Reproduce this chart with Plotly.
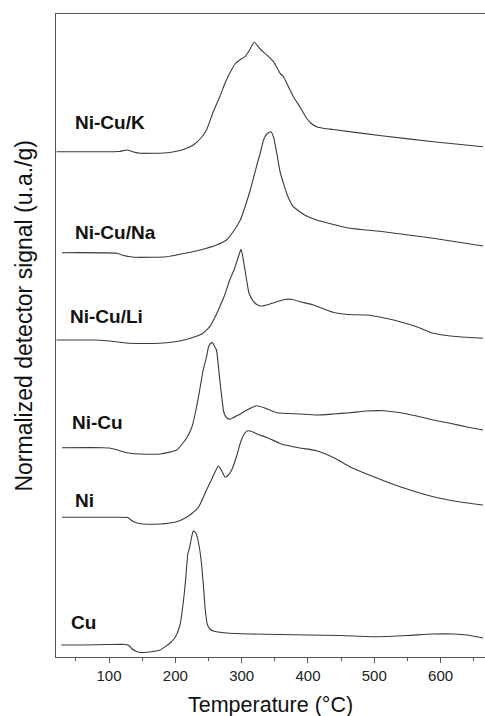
import plotly.graph_objects as go

# Temperature-programmed reduction profiles, stacked with vertical offsets
# (signal values are in stacked display units; the y axis carries no ticks).

cu_temp = [28, 60, 100, 125, 130, 134, 140, 147, 160, 177, 192, 200, 207, 212, 215, 219, 221,
           224, 227, 231, 235, 239, 242, 245, 248, 252, 257, 277, 313, 400, 450, 504, 550,
           589, 620, 640, 664]
cu_signal = [12, 12, 12.5, 12.5, 11.5, 8.5, 6, 4.5, 5, 7, 14, 20, 32, 55, 74, 104, 108,
             118, 126, 124, 114, 96, 74, 48, 33, 28, 26, 24, 23, 22, 21.5, 20.3, 21.5,
             23, 23, 22, 19]

ni_temp = [29, 100, 128, 133, 138, 145, 151, 177, 202, 215, 222, 235, 247, 255, 260, 265,
           270, 275, 280, 285, 292, 298, 303, 308, 313, 325, 338, 360, 388, 413, 440, 463,
           500, 539, 589, 630, 664]
ni_signal = [139.7, 139.7, 139.5, 137, 135, 133.5, 133, 133, 135.3, 139, 142, 150, 167, 178,
             185.3, 191, 186, 180, 182, 187, 200, 214, 222, 226, 226, 222.5, 219.5, 213, 209,
             206.3, 199, 190.3, 180, 170.3, 160.3, 155, 152]

nicu_temp = [29, 91, 100, 110, 120, 132, 147, 177, 202, 217, 225, 232, 237, 242, 247, 250,
             253, 256, 259, 262, 267, 270, 273, 277, 282, 295, 308, 323, 335, 353, 388, 413,
             438, 463, 488, 513, 539, 564, 589, 614, 640, 664]
nicu_signal = [209.3, 209.3, 209, 207.5, 205.5, 203.7, 203, 203, 207, 219, 230, 250, 268, 287,
               300, 310, 313.5, 314.3, 311, 307, 277, 260, 245, 239.5, 237.7, 242, 247, 251.3,
               249, 244.3, 243, 242, 243, 244.3, 246, 246.3, 244.3, 241, 237, 233.7, 230, 227]

li_temp = [21, 76, 100, 132, 160, 187, 210, 227, 240, 252, 260, 267, 275, 282, 289, 293, 296,
           299, 301, 303, 305, 308, 311, 318, 324, 330, 340, 353, 365, 375, 390, 408, 438,
           460, 489, 515, 539, 565, 589, 615, 639, 664]
li_signal = [317, 317, 316, 313.7, 313.5, 314.3, 316.5, 319.7, 323, 330.3, 340, 350.3, 363,
             377, 388, 396, 402, 407.7, 403, 395, 387, 375, 364, 355.3, 352, 351, 352.5,
             355.3, 357.5, 357.7, 355, 352, 344.7, 342.5, 342, 339, 335.3, 330, 323.7, 321,
             319.7, 318.7]

na_temp = [29, 112, 122, 132, 142, 187, 237, 262, 277, 290, 298, 306, 313, 319, 325, 328, 333,
           338, 344, 348, 353, 358, 363, 370, 378, 395, 413, 463, 514, 589, 664]
na_signal = [404.3, 403.7, 401.5, 400.3, 399.7, 400.3, 407, 412, 417, 428, 437, 452, 467, 482,
             497, 503.7, 517, 523, 525.3, 520, 503.7, 485, 473.7, 460, 450.3, 442, 437, 428.7,
             425.3, 418.7, 411]

k_temp = [21, 101, 115, 127, 137, 147, 187, 210, 227, 240, 247, 257, 267, 275, 282, 290, 297,
          305, 312, 319, 328, 338, 348, 358, 363, 368, 378, 388, 398, 405, 413, 425, 438, 514,
          589, 664]
k_signal = [505.3, 505.3, 505.5, 507, 505, 503.7, 504.3, 507, 512, 520, 527, 545, 560.3, 574,
            583.7, 593, 597, 600.3, 607, 614.7, 608, 602, 595.3, 583.7, 580.3, 573.7, 560.3,
            550, 538.7, 533.5, 530.3, 528.5, 527.5, 521, 515.3, 510.3]

series_names = ["Cu", "Ni", "Ni-Cu", "Ni-Cu/Li", "Ni-Cu/Na", "Ni-Cu/K"]
series_temps = [cu_temp, ni_temp, nicu_temp, li_temp, na_temp, k_temp]
series_signals = [cu_signal, ni_signal, nicu_signal, li_signal, na_signal, k_signal]

# label anchor (temperature, stacked signal) for each curve name
label_temp = [39.5, 45.5, 41.5, 38, 45.5, 45.5]
label_signal = [34.5, 157, 234.5, 341, 425, 534.5]

x_ticks = [100, 200, 300, 400, 500, 600]
x_minor = [50, 150, 250, 350, 450, 550, 650]

LINE = "#3a3a3a"
AXIS = "#555555"
FONT = "Liberation Sans, Arial, sans-serif"

fig = go.Figure()
for name, t, s in zip(series_names, series_temps, series_signals):
    fig.add_trace(go.Scatter(
        x=t, y=s, mode="lines", name=name,
        line=dict(color=LINE, width=1.1, shape="spline", smoothing=0.5),
        showlegend=False, hoverinfo="skip",
    ))

for name, lx, ly in zip(series_names, label_temp, label_signal):
    fig.add_annotation(
        x=lx, y=ly, xref="x", yref="y", text=f"<b>{name}</b>",
        showarrow=False, xanchor="left", yanchor="middle",
        font=dict(family=FONT, size=19, color="#111111"),
    )

# axis titles
fig.add_annotation(
    x=0.5, y=0, xref="paper", yref="paper", yshift=-48,
    text="Temperature (°C)", showarrow=False, xanchor="center", yanchor="middle",
    font=dict(family=FONT, size=21.5, color="#111111"),
)
fig.add_annotation(
    x=0, y=0.531, xref="paper", yref="paper", xshift=-32,
    text="Normalized detector signal (u.a./g)", textangle=-90, showarrow=False,
    xanchor="center", yanchor="middle",
    font=dict(family=FONT, size=23, color="#111111"),
)

fig.update_layout(
    width=485, height=716,
    margin=dict(l=56, r=0, t=14, b=59),
    paper_bgcolor="white", plot_bgcolor="white",
    xaxis=dict(
        range=[20, 667], tickvals=x_ticks, ticktext=[str(v) for v in x_ticks],
        showline=True, linecolor=AXIS, linewidth=1, mirror=True,
        ticks="outside", ticklen=5, tickcolor=AXIS, tickwidth=1,
        minor=dict(ticks="outside", ticklen=3, tickcolor=AXIS, tickvals=x_minor),
        showgrid=False, zeroline=False,
        tickfont=dict(family=FONT, size=15, color="#222222"),
    ),
    yaxis=dict(
        range=[0, 643], showline=True, linecolor=AXIS, linewidth=1, mirror=False,
        showticklabels=False, ticks="", showgrid=False, zeroline=False,
    ),
)

fig.write_html("out.html")
